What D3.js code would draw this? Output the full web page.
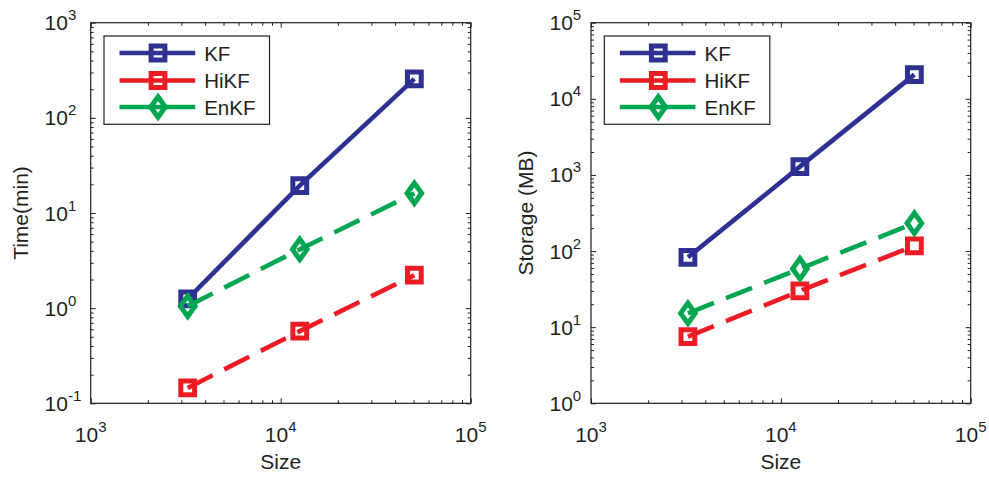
<!DOCTYPE html>
<html>
<head>
<meta charset="utf-8">
<script src="https://cdn.jsdelivr.net/npm/d3@7"></script>
<style>
  html, body { margin: 0; padding: 0; background: #fff; }
  svg { display: block; font-family: "Liberation Sans", Arial, Helvetica, sans-serif; }
</style>
</head>
<body>
<svg id="chart" width="989" height="478"></svg>
<script>
// ---- data ----
const sizes = [3240, 12600, 50500];
const seriesNames = ["KF", "HiKF", "EnKF"];
const timeKF = [1.25, 19.4, 257];
const timeHiKF = [0.145, 0.573, 2.22];
const timeEnKF = [1.05, 4.15, 16.1];
const storageKF = [82.8, 1285, 20800];
const storageHiKF = [7.5, 29.9, 117];
const storageEnKF = [15.2, 58.7, 232];
const xTickExps = [3, 4, 5];
const timeTickExps = [-1, 0, 1, 2, 3];
const storageTickExps = [0, 1, 2, 3, 4, 5];
const xLabel = "Size";
const timeLabel = "Time(min)";
const storageLabel = "Storage (MB)";

// ---- styles ----
const colors = { KF: "#2E3192", HiKF: "#ED1C24", EnKF: "#00A651" };
const dashes = { KF: null, HiKF: "28,13", EnKF: "28,13" };
const markers = { KF: "square", HiKF: "square", EnKF: "diamond" };
const ink = "#231f20";

const svg = d3.select("#chart");

const panels = [
  { x0: 90.7, x1: 470.7, y0: 22.7, y1: 403.3, yExps: timeTickExps, ylabel: timeLabel,
    ylabelX: 27.7, ytickX: 44.6,
    data: { KF: timeKF, HiKF: timeHiKF, EnKF: timeEnKF } },
  { x0: 591, x1: 970.7, y0: 22.7, y1: 403.3, yExps: storageTickExps, ylabel: storageLabel,
    ylabelX: 533, ytickX: 549.5,
    data: { KF: storageKF, HiKF: storageHiKF, EnKF: storageEnKF } }
];

function markerPath(type) {
  if (type === "square") {
    const s = 6.9;
    return `M${-s},${-s}H${s}V${s}H${-s}Z`;
  } else {
    const w = 7.3, h = 10.2;
    return `M0,${-h}L${w},0L0,${h}L${-w},0Z`;
  }
}

function expLabel(sel, e) {
  sel.append("tspan").text("10");
  sel.append("tspan").attr("dy", -10).attr("font-size", 15).text(String(e));
}

panels.forEach(p => {
  const xDom = [Math.pow(10, xTickExps[0]), Math.pow(10, xTickExps[xTickExps.length - 1])];
  const yDom = [Math.pow(10, p.yExps[0]), Math.pow(10, p.yExps[p.yExps.length - 1])];
  const x = d3.scaleLog().domain(xDom).range([p.x0, p.x1]);
  const y = d3.scaleLog().domain(yDom).range([p.y1, p.y0]);
  const g = svg.append("g");

  const xMajor = xTickExps.map(e => Math.pow(10, e));
  const yMajor = p.yExps.map(e => Math.pow(10, e));
  const xMinor = x.ticks().filter(v => !xMajor.some(m => Math.abs(m - v) / m < 1e-9));
  const yMinor = y.ticks().filter(v => !yMajor.some(m => Math.abs(m - v) / m < 1e-9));

  const addAxis = (axisFn, scale, values, size, transform) => {
    const a = g.append("g").attr("transform", transform)
      .call(axisFn(scale).tickValues(values).tickSize(-size).tickFormat(""));
    a.select(".domain").remove();
    a.selectAll(".tick line").attr("stroke", ink).attr("stroke-width", 1);
  };
  // inward ticks on all 4 sides
  [[xMajor, 5], [xMinor, 3]].forEach(([vals, sz]) => {
    addAxis(d3.axisBottom, x, vals, sz, `translate(0,${p.y1})`);
    addAxis(d3.axisTop, x, vals, sz, `translate(0,${p.y0})`);
  });
  [[yMajor, 5], [yMinor, 3]].forEach(([vals, sz]) => {
    addAxis(d3.axisLeft, y, vals, sz, `translate(${p.x0},0)`);
    addAxis(d3.axisRight, y, vals, sz, `translate(${p.x1},0)`);
  });

  // frame
  g.append("rect").attr("x", p.x0).attr("y", p.y0)
    .attr("width", p.x1 - p.x0).attr("height", p.y1 - p.y0)
    .attr("fill", "none").attr("stroke", ink).attr("stroke-width", 1.2);

  // x tick labels
  xTickExps.forEach(e => {
    const t = g.append("text").attr("x", x(Math.pow(10, e))).attr("y", 441.7)
      .attr("text-anchor", "middle").attr("font-size", 21).attr("fill", ink);
    expLabel(t, e);
  });
  // y tick labels
  p.yExps.forEach(e => {
    const t = g.append("text").attr("x", p.ytickX).attr("y", y(Math.pow(10, e)) + 7.5)
      .attr("text-anchor", "start").attr("font-size", 21).attr("fill", ink);
    expLabel(t, e);
  });

  // axis labels
  g.append("text").attr("x", (p.x0 + p.x1) / 2).attr("y", 469.3)
    .attr("text-anchor", "middle").attr("font-size", 21).attr("fill", ink).text(xLabel);
  g.append("text").attr("transform", `translate(${p.ylabelX},${(p.y0 + p.y1) / 2}) rotate(-90)`)
    .attr("text-anchor", "middle").attr("font-size", 21).attr("fill", ink).text(p.ylabel);

  // series
  const line = d3.line().x(d => x(d[0])).y(d => y(d[1]));
  seriesNames.forEach(name => {
    const pts = sizes.map((s, i) => [s, p.data[name][i]]);
    g.append("path").attr("d", line(pts)).attr("fill", "none")
      .attr("stroke", colors[name]).attr("stroke-width", 4.6)
      .attr("stroke-dasharray", dashes[name])
      .attr("stroke-linejoin", "miter");
    g.selectAll(null).data(pts).enter().append("path")
      .attr("d", markerPath(markers[name]))
      .attr("transform", d => `translate(${x(d[0])},${y(d[1])})`)
      .attr("fill", "none").attr("stroke", colors[name]).attr("stroke-width", 5);
  });

  // legend
  const lx = p.x0 + 13.3, ly = 36;
  const lg = g.append("g");
  lg.append("rect").attr("x", lx).attr("y", ly).attr("width", 165.5).attr("height", 88.3)
    .attr("fill", "#fff").attr("stroke", ink).attr("stroke-width", 1.2);
  const rowY = [53, 80.5, 107];
  seriesNames.forEach((name, i) => {
    const cy = rowY[i];
    lg.append("line").attr("x1", p.x0 + 28.8).attr("x2", p.x0 + 104.5)
      .attr("y1", cy).attr("y2", cy).attr("stroke", colors[name]).attr("stroke-width", 4.6);
    lg.append("path").attr("d", markerPath(markers[name]))
      .attr("transform", `translate(${p.x0 + 67.3},${cy})`)
      .attr("fill", "none").attr("stroke", colors[name]).attr("stroke-width", 5);
    lg.append("text").attr("x", p.x0 + 113.5).attr("y", cy + 7.8)
      .attr("font-size", 20.5).attr("fill", ink).text(name);
  });
});
</script>
</body>
</html>
